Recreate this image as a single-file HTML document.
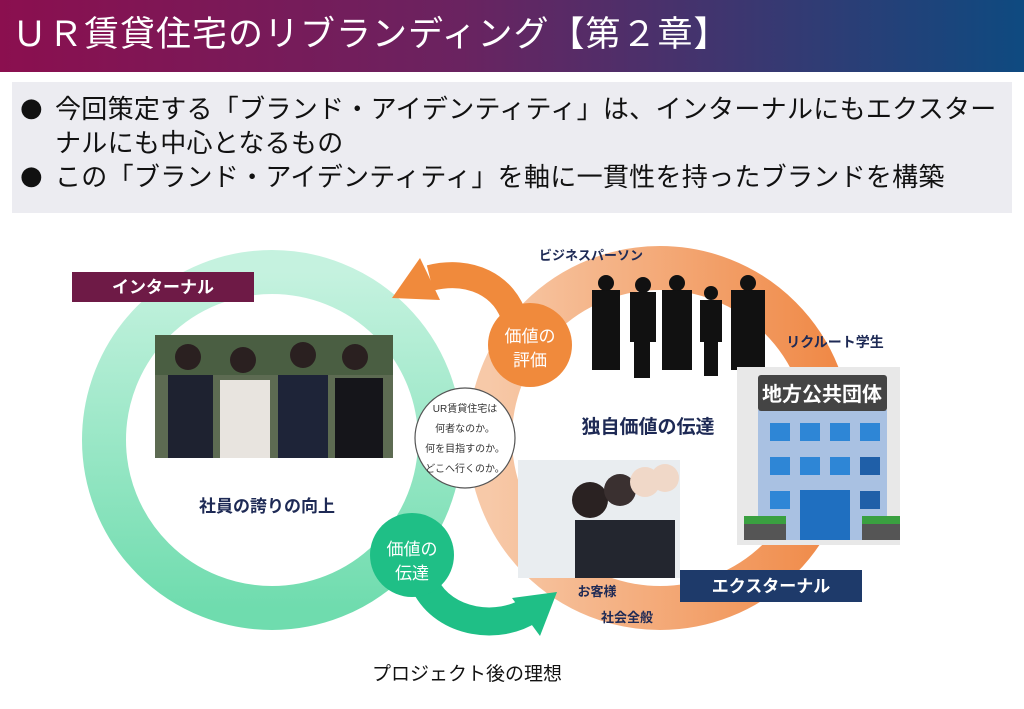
<!DOCTYPE html>
<html><head><meta charset="utf-8"><style>
body{margin:0;width:1024px;height:709px;overflow:hidden;background:#fff;font-family:"Liberation Sans","Noto Sans CJK JP",sans-serif;position:relative}
.t{position:absolute;left:0;top:0;width:1024px;height:72px;background:linear-gradient(90deg,#8b0f4f,#6a2360 45%,#0e4a80);color:#fff;font-size:35px;line-height:70px;padding-left:12px;box-sizing:border-box;letter-spacing:1px}
.b{position:absolute;left:12px;top:82px;width:1000px;height:131px;background:#ececf1}
.b div{position:absolute;left:43px;font-size:26px;color:#111;line-height:34px;white-space:nowrap;letter-spacing:0.3px}
.b span{position:absolute;left:8px;font-size:26px;line-height:34px;color:#111;font-family:"DejaVu Sans",sans-serif}
</style></head><body>
<div class="t">ＵＲ賃貸住宅のリブランディング【第２章】</div>
<div class="b">
<span style="top:9px">●</span><div style="top:10px">今回策定する「ブランド・アイデンティティ」は、インターナルにもエクスター</div>
<div style="top:44px">ナルにも中心となるもの</div>
<span style="top:77px">●</span><div style="top:78px">この「ブランド・アイデンティティ」を軸に一貫性を持ったブランドを構築</div>
</div>
<svg width="1024" height="709" style="position:absolute;left:0;top:0" font-family="Liberation Sans, Noto Sans CJK JP, sans-serif">
<defs>
<linearGradient id="g" x1="0" y1="0" x2="0" y2="1"><stop offset="0" stop-color="#c5f2df"/><stop offset="1" stop-color="#6fdcae"/></linearGradient>
<linearGradient id="o" x1="0" y1="0" x2="1" y2="0"><stop offset="0" stop-color="#f7c9a8"/><stop offset="1" stop-color="#f08a48"/></linearGradient>
</defs>
<circle cx="272" cy="440" r="168" fill="none" stroke="url(#g)" stroke-width="44"/>
<circle cx="660" cy="438" r="170" fill="none" stroke="url(#o)" stroke-width="44"/>
<path d="M515 320 C505 285 470 268 430 278" fill="none" stroke="#f08a3c" stroke-width="26"/>
<polygon points="392,298 420,258 440,300" fill="#f08a3c"/>
<path d="M425 585 C445 625 500 630 530 610" fill="none" stroke="#1fbf86" stroke-width="28"/>
<polygon points="557,592 512,598 540,636" fill="#1fbf86"/>
<rect x="72" y="272" width="182" height="30" fill="#6e1a46"/>
<text x="163" y="293" fill="#fff" font-size="17" font-weight="bold" text-anchor="middle">インターナル</text>
<rect x="680" y="570" width="182" height="32" fill="#1e3a6a"/>
<text x="771" y="592" fill="#fff" font-size="17" font-weight="bold" text-anchor="middle">エクスターナル</text>
<rect x="155" y="335" width="238" height="123" fill="#5d6b52"/>
<rect x="155" y="335" width="238" height="40" fill="#4a5e42"/>
<rect x="168" y="375" width="45" height="83" fill="#1e2230"/><circle cx="188" cy="357" r="13" fill="#2a2020"/>
<rect x="220" y="380" width="50" height="78" fill="#e8e4df"/><circle cx="243" cy="360" r="13" fill="#2a2020"/>
<rect x="278" y="375" width="50" height="83" fill="#1e2438"/><circle cx="303" cy="355" r="13" fill="#2a2020"/>
<rect x="335" y="378" width="48" height="80" fill="#15151a"/><circle cx="355" cy="357" r="13" fill="#2a2020"/>
<rect x="518" y="460" width="162" height="118" fill="#e9edf0"/>
<rect x="575" y="520" width="100" height="58" fill="#23262f"/>
<circle cx="590" cy="500" r="18" fill="#2a2222"/><circle cx="620" cy="490" r="16" fill="#3a3030"/><circle cx="645" cy="482" r="15" fill="#f0d8c8"/><circle cx="665" cy="478" r="14" fill="#f0d8c8"/>
<circle cx="465" cy="438" r="50" fill="#fff" stroke="#555" stroke-width="1.2"/>
<g font-size="10" fill="#333" text-anchor="middle"><text x="465" y="412">UR賃貸住宅は</text><text x="465" y="432">何者なのか。</text><text x="465" y="452">何を目指すのか。</text><text x="465" y="472">どこへ行くのか。</text></g>
<circle cx="530" cy="345" r="42" fill="#f08a3c"/>
<g font-size="17" fill="#fff" text-anchor="middle"><text x="530" y="342">価値の</text><text x="530" y="366">評価</text></g>
<circle cx="412" cy="555" r="42" fill="#1fbf86"/>
<g font-size="17" fill="#fff" text-anchor="middle"><text x="412" y="555">価値の</text><text x="412" y="579">伝達</text></g>
<g fill="#111">
<rect x="592" y="290" width="28" height="80"/><circle cx="606" cy="283" r="8"/>
<rect x="630" y="292" width="26" height="50"/><rect x="634" y="340" width="16" height="38"/><circle cx="643" cy="285" r="8"/>
<rect x="662" y="290" width="30" height="80"/><circle cx="677" cy="283" r="8"/>
<rect x="700" y="300" width="22" height="42"/><rect x="704" y="340" width="14" height="36"/><circle cx="711" cy="293" r="7"/>
<rect x="731" y="290" width="34" height="80"/><circle cx="748" cy="283" r="8"/>
</g>
<text x="591" y="260" font-size="13" font-weight="bold" fill="#1e2a55" text-anchor="middle">ビジネスパーソン</text>
<text x="835" y="347" font-size="14" font-weight="bold" fill="#1e2a55" text-anchor="middle">リクルート学生</text>
<text x="648" y="433" font-size="19" font-weight="bold" fill="#1e2a55" text-anchor="middle">独自価値の伝達</text>
<text x="267" y="512" font-size="17" font-weight="bold" fill="#1e2a55" text-anchor="middle">社員の誇りの向上</text>
<text x="597" y="596" font-size="13" font-weight="bold" fill="#1e2a55" text-anchor="middle">お客様</text>
<text x="627" y="622" font-size="13" font-weight="bold" fill="#1e2a55" text-anchor="middle">社会全般</text>
<text x="467" y="680" font-size="19" fill="#111" text-anchor="middle">プロジェクト後の理想</text>
<rect x="737" y="367" width="163" height="178" fill="#e8e8e8"/>
<rect x="758" y="410" width="129" height="130" fill="#a9c1e2"/>
<rect x="758" y="375" width="129" height="36" rx="3" fill="#444"/>
<text x="822" y="401" font-size="20" font-weight="bold" fill="#fff" text-anchor="middle">地方公共団体</text>
<g fill="#2e86d6">
<rect x="770" y="423" width="20" height="18"/><rect x="800" y="423" width="20" height="18"/><rect x="830" y="423" width="20" height="18"/><rect x="860" y="423" width="20" height="18"/>
<rect x="770" y="457" width="20" height="18"/><rect x="800" y="457" width="20" height="18"/><rect x="830" y="457" width="20" height="18"/><rect x="860" y="457" width="20" height="18" fill="#1f5fa8"/>
<rect x="770" y="491" width="20" height="18"/><rect x="860" y="491" width="20" height="18" fill="#1f5fa8"/>
<rect x="800" y="490" width="50" height="50" fill="#1f6fc0"/></g>
<rect x="744" y="522" width="42" height="18" fill="#555"/><rect x="744" y="516" width="42" height="8" fill="#3aa040"/>
<rect x="862" y="522" width="38" height="18" fill="#555"/><rect x="862" y="516" width="38" height="8" fill="#3aa040"/>
</svg>
</body></html>
